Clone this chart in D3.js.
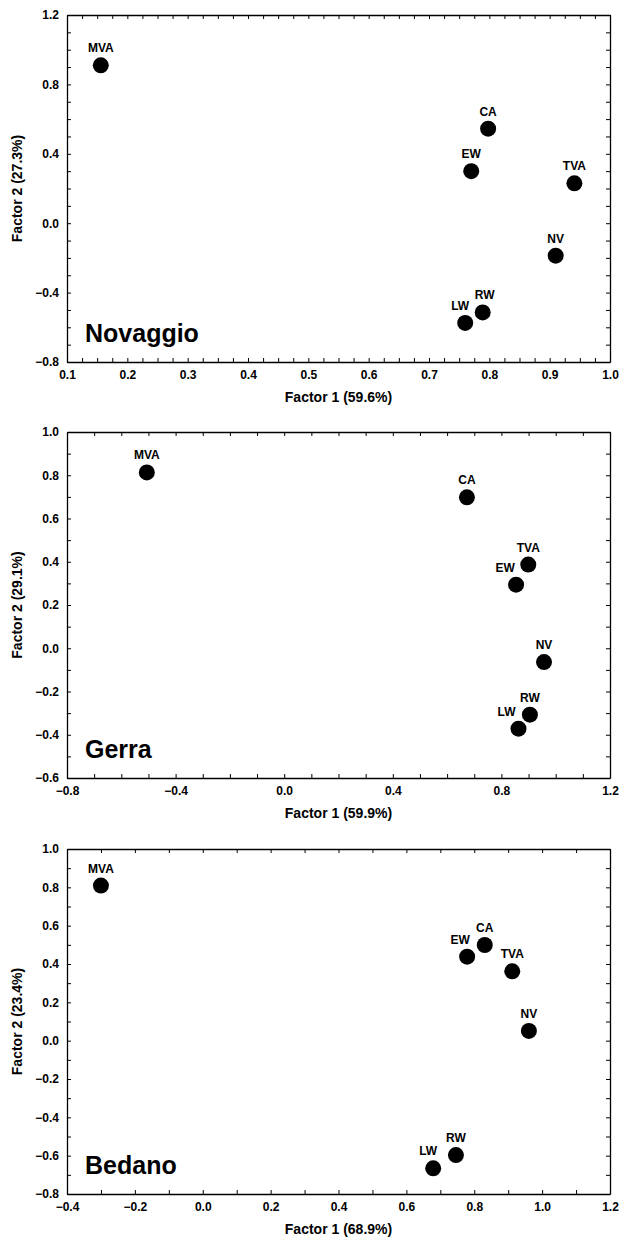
<!DOCTYPE html>
<html>
<head>
<meta charset="utf-8">
<script src="https://cdn.jsdelivr.net/npm/d3@7"></script>
<style>
  body { margin: 0; background: #fff; }
  svg text { font-family: "Liberation Sans", Arial, sans-serif; font-weight: bold; fill: #000; }
</style>
</head>
<body>
<div id="chart"></div>
<script>
// Point labels (same order in every panel)
const pointLabels = ["MVA", "CA", "EW", "TVA", "NV", "RW", "LW"];

// Site names and explained variance
const sites = ["Novaggio", "Gerra", "Bedano"];
const factor1Pct = ["59.6", "59.9", "68.9"];
const factor2Pct = ["27.3", "29.1", "23.4"];

// Factor loadings
const novaggioF1 = [0.156, 0.798, 0.770, 0.941, 0.910, 0.789, 0.760];
const novaggioF2 = [0.910, 0.545, 0.300, 0.230, -0.187, -0.514, -0.575];
const gerraF1 = [-0.506, 0.673, 0.854, 0.899, 0.957, 0.905, 0.863];
const gerraF2 = [0.813, 0.698, 0.294, 0.387, -0.064, -0.307, -0.372];
const bedanoF1 = [-0.300, 0.831, 0.779, 0.912, 0.961, 0.746, 0.679];
const bedanoF2 = [0.809, 0.499, 0.438, 0.362, 0.051, -0.597, -0.666];

// Axis ranges and tick labels
const xDomains = [[0.1, 1.0], [-0.8, 1.2], [-0.4, 1.2]];
const yDomains = [[-0.8, 1.2], [-0.6, 1.0], [-0.8, 1.0]];
const xTickLabels = [
  [0.1, 0.2, 0.3, 0.4, 0.5, 0.6, 0.7, 0.8, 0.9, 1.0],
  [-0.8, -0.4, 0.0, 0.4, 0.8, 1.2],
  [-0.4, -0.2, 0.0, 0.2, 0.4, 0.6, 0.8, 1.0, 1.2]
];
const yTickLabels = [
  [-0.8, -0.4, 0.0, 0.4, 0.8, 1.2],
  [-0.6, -0.4, -0.2, 0.0, 0.2, 0.4, 0.6, 0.8, 1.0],
  [-0.8, -0.6, -0.4, -0.2, 0.0, 0.2, 0.4, 0.6, 0.8, 1.0]
];
const xMinorStep = [0.025, 0.1, 0.1];
const yMinorStep = [0.1, 0.1, 0.1];

const panelData = [
  [novaggioF1, novaggioF2],
  [gerraF1, gerraF2],
  [bedanoF1, bedanoF2]
];

// small horizontal nudges for labels that sit left of their dot
const labelNudge = [
  { LW: -5, RW: 2 },
  { EW: -11, LW: -12 },
  { EW: -7, LW: -5 }
];

const width = 619, height = 1240;
const svg = d3.select("#chart").append("svg")
  .attr("width", width)
  .attr("height", height);

// plot frames (top/bottom) of the three panels
const frames = [[15, 362], [432, 778], [849, 1194]];
const left = 67, right = 610;

function steps(domain, step) {
  const out = [];
  const n = Math.round((domain[1] - domain[0]) / step);
  for (let i = 0; i <= n; i++) out.push(+(domain[0] + i * step).toFixed(4));
  return out;
}

sites.forEach((site, i) => {
  const [top, bottom] = frames[i];
  const x = d3.scaleLinear().domain(xDomains[i]).range([left, right]);
  const y = d3.scaleLinear().domain(yDomains[i]).range([bottom, top]);
  const g = svg.append("g");

  const fmt = d3.format(".1f");
  const xMinor = steps(xDomains[i], xMinorStep[i]);
  const yMinor = steps(yDomains[i], yMinorStep[i]);

  // bottom axis with labels
  g.append("g")
    .attr("transform", `translate(0,${bottom})`)
    .call(d3.axisBottom(x).tickValues(xMinor).tickSizeInner(-4).tickSizeOuter(0)
      .tickPadding(8)
      .tickFormat(d => xTickLabels[i].some(v => Math.abs(v - d) < 1e-6) ? fmt(d) : ""));
  // top axis, ticks only
  g.append("g")
    .attr("transform", `translate(0,${top})`)
    .call(d3.axisTop(x).tickValues(xMinor).tickSizeInner(-4).tickSizeOuter(0).tickFormat(""));
  // left axis with labels
  g.append("g")
    .attr("transform", `translate(${left},0)`)
    .call(d3.axisLeft(y).tickValues(yMinor).tickSizeInner(-4).tickSizeOuter(0)
      .tickPadding(8)
      .tickFormat(d => yTickLabels[i].some(v => Math.abs(v - d) < 1e-6) ? fmt(d) : ""));
  // right axis, ticks only
  g.append("g")
    .attr("transform", `translate(${right},0)`)
    .call(d3.axisRight(y).tickValues(yMinor).tickSizeInner(-4).tickSizeOuter(0).tickFormat(""));

  g.selectAll(".domain").attr("stroke", "#000").attr("stroke-width", 1.3);
  g.selectAll(".tick line").attr("stroke", "#000").attr("stroke-width", 1);
  g.selectAll(".tick text")
    .attr("font-size", 12)
    .attr("font-family", "Liberation Sans, Arial, sans-serif")
    .attr("font-weight", "bold");

  // axis titles
  g.append("text")
    .attr("x", (left + right) / 2)
    .attr("y", bottom + 40)
    .attr("text-anchor", "middle")
    .attr("font-size", 14)
    .text(`Factor 1 (${factor1Pct[i]}%)`);
  g.append("text")
    .attr("transform", `translate(22,${(top + bottom) / 2}) rotate(-90)`)
    .attr("text-anchor", "middle")
    .attr("font-size", 14)
    .text(`Factor 2 (${factor2Pct[i]}%)`);

  // site name
  g.append("text")
    .attr("x", 85)
    .attr("y", bottom - 20)
    .attr("font-size", 25)
    .text(site);

  // points
  const [f1, f2] = panelData[i];
  const pts = pointLabels.map((lab, k) => ({ lab, f1: f1[k], f2: f2[k] }));

  g.selectAll("circle.pt")
    .data(pts)
    .join("circle")
    .attr("class", "pt")
    .attr("cx", d => x(d.f1))
    .attr("cy", d => y(d.f2))
    .attr("r", 8)
    .attr("fill", "#000");

  g.selectAll("text.pl")
    .data(pts)
    .join("text")
    .attr("class", "pl")
    .attr("x", d => x(d.f1) + (labelNudge[i][d.lab] || 0))
    .attr("y", d => y(d.f2) - 13)
    .attr("text-anchor", "middle")
    .attr("font-size", 12)
    .text(d => d.lab);
});
</script>
</body>
</html>
